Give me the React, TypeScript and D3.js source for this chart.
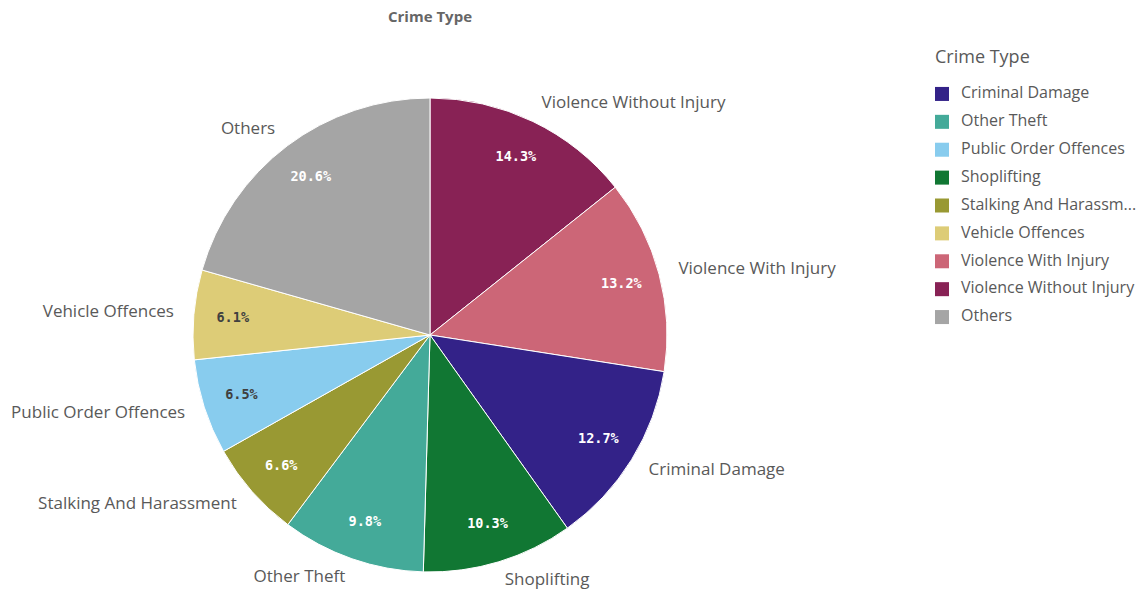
import React from 'react';
import * as d3 from 'd3';

const categories = [
  'Violence Without Injury',
  'Violence With Injury',
  'Criminal Damage',
  'Shoplifting',
  'Other Theft',
  'Stalking And Harassment',
  'Public Order Offences',
  'Vehicle Offences',
  'Others',
];
const shares = [14.3, 13.2, 12.7, 10.3, 9.8, 6.6, 6.5, 6.1, 20.6];
const sliceColors = ['#882255', '#cc6677', '#332288', '#117733', '#44aa99', '#999933', '#88ccee', '#ddcc77', '#a5a5a5'];
const darkLabel = ['Public Order Offences', 'Vehicle Offences'];

const legendItems = [
  'Criminal Damage',
  'Other Theft',
  'Public Order Offences',
  'Shoplifting',
  'Stalking And Harassm...',
  'Vehicle Offences',
  'Violence With Injury',
  'Violence Without Injury',
  'Others',
];
const legendKeys = [
  'Criminal Damage',
  'Other Theft',
  'Public Order Offences',
  'Shoplifting',
  'Stalking And Harassment',
  'Vehicle Offences',
  'Violence With Injury',
  'Violence Without Injury',
  'Others',
];

const W = 1138;
const H = 592;
const font = '"Open Sans", sans-serif';

const App: React.FC = () => {
  const cx = 430;
  const cy = 335;
  const r = 237;

  const color = d3.scaleOrdinal<string, string>().domain(categories).range(sliceColors);
  const data = categories.map((c, i) => ({ name: c, value: shares[i] }));
  const pie = d3.pie<{ name: string; value: number }>().value(d => d.value).sort(null);
  const arcs = pie(data);
  const arc = d3.arc<d3.PieArcDatum<{ name: string; value: number }>>().innerRadius(0).outerRadius(r);
  const pctArc = d3.arc<d3.PieArcDatum<{ name: string; value: number }>>().innerRadius(198).outerRadius(198);
  const outerR = r + 20;

  const legendY = d3.scaleBand<string>().domain(legendKeys).range([80, 331]);

  return (
    <svg width={W} height={H} style={{ position: 'absolute', left: 0, top: 0, background: '#fff' }}>
      <text x={cx} y={18} textAnchor="middle" dominantBaseline="middle" fontFamily={font} fontWeight={700} fontSize={15} fill="#666666">
        Crime Type
      </text>
      <g transform={`translate(${cx},${cy})`}>
        {arcs.map(a => (
          <path key={a.data.name} d={arc(a) || ''} fill={color(a.data.name)} stroke="#ffffff" strokeWidth={1} />
        ))}
        {arcs.map(a => {
          const [x, y] = pctArc.centroid(a);
          return (
            <text
              key={`p-${a.data.name}`}
              x={x}
              y={y}
              textAnchor="middle"
              dominantBaseline="middle"
              fontFamily='"DejaVu Sans Mono", monospace'
              fontWeight={700}
              fontSize={13.5}
              fill={darkLabel.includes(a.data.name) ? '#404040' : '#ffffff'}
            >
              {d3.format('.1f')(a.data.value)}%
            </text>
          );
        })}
        {arcs.map(a => {
          const mid = (a.startAngle + a.endAngle) / 2;
          const x = outerR * Math.sin(mid);
          const y = -outerR * Math.cos(mid);
          return (
            <text
              key={`l-${a.data.name}`}
              x={x}
              y={y}
              textAnchor={x >= 0 ? 'start' : 'end'}
              dominantBaseline="middle"
              fontFamily={font}
              fontSize={17}
              fill="#595959"
            >
              {a.data.name}
            </text>
          );
        })}
      </g>
      <g>
        <text x={935} y={58} dominantBaseline="middle" fontFamily={font} fontSize={18} fill="#595959">
          Crime Type
        </text>
        {legendKeys.map((k, i) => {
          const y = (legendY(k) || 0) + legendY.bandwidth() / 2;
          return (
            <g key={k}>
              <rect x={935} y={y - 7} width={14} height={14} fill={color(k)} />
              <text x={961} y={y} dominantBaseline="middle" fontFamily={font} fontSize={16} fill="#595959">
                {legendItems[i]}
              </text>
            </g>
          );
        })}
      </g>
    </svg>
  );
};

export default App;
